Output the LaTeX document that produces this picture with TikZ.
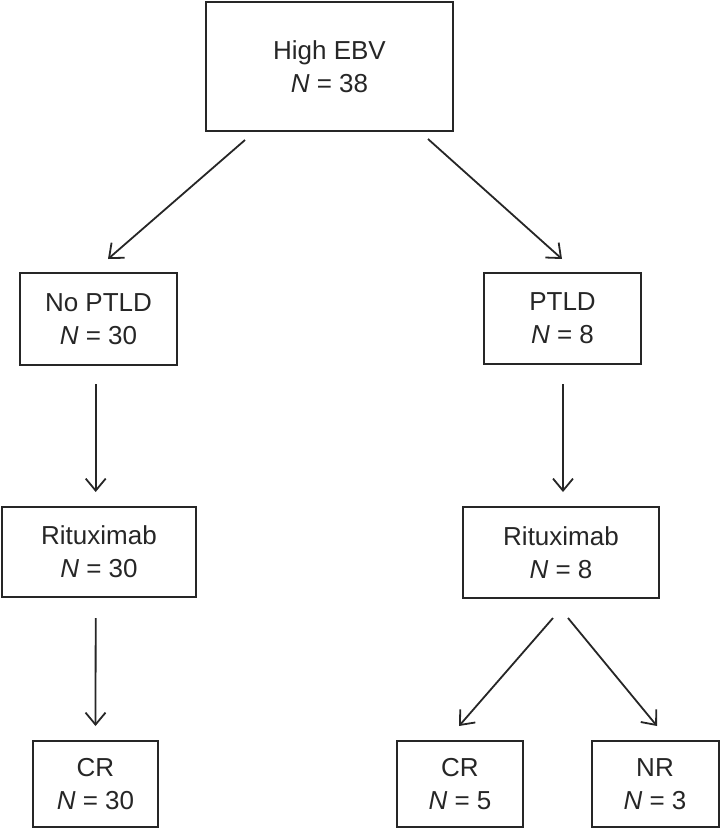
\documentclass[tikz,border=0pt]{standalone}
\usepackage{fontspec}
\setmainfont{Liberation Sans}
\usetikzlibrary{arrows.meta,calc}
\begin{document}
\begin{tikzpicture}[x=1pt,y=-1pt,
  box/.style={draw=black!85, line width=2pt, align=center, inner sep=0pt,
    font=\fontsize{26}{33}\selectfont, text=black!85},
  arr/.style={draw=black!85, line width=1.8pt,
    -{Straight Barb[length=12pt,width=20pt,line width=1.8pt]}}]
\useasboundingbox (0,0) rectangle (720,828);
\node[box, minimum width=247pt, minimum height=129pt] (top) at (329.5,66.5) {High EBV\\\textit{N} = 38};
\node[box, minimum width=157pt, minimum height=92pt] (noptld) at (98.5,319) {No PTLD\\\textit{N} = 30};
\node[box, minimum width=157pt, minimum height=91pt] (ptld) at (562.5,318.5) {PTLD\\\textit{N} = 8};
\node[box, minimum width=194pt, minimum height=90pt] (ritl) at (99,552) {Rituximab\\\textit{N} = 30};
\node[box, minimum width=196pt, minimum height=91pt] (ritr) at (561,552.5) {Rituximab\\\textit{N} = 8};
\node[box, minimum width=125pt, minimum height=86pt] (crl) at (95.5,784) {CR\\\textit{N} = 30};
\node[box, minimum width=126pt, minimum height=86pt] (crr) at (460,784) {CR\\\textit{N} = 5};
\node[box, minimum width=127pt, minimum height=86pt] (nr) at (655,784) {NR\\\textit{N} = 3};
\draw[arr] ($(top.south)+(-84.5,8)$) -- ($(noptld.north)+(9.5,-13)$);
\draw[arr] ($(top.south)+(98.5,7)$) -- ($(ptld.north)+(-0.5,-13)$);
\draw[arr] ($(noptld.south)+(-2.8,18)$) -- ($(ritl.north)+(-3.3,-14)$);
\draw[arr] ($(ptld.south)+(0.5,19)$) -- ($(ritr.north)+(2,-14)$);
\draw[arr] ($(ritl.south)+(-3.3,20)$) -- ($(crl.north)+(0,-14)$);
\draw[arr] ($(ritr.south)+(-8,19)$) -- ($(crr.north)+(-1,-14)$);
\draw[arr] ($(ritr.south)+(7,19)$) -- ($(nr.north)+(2,-14)$);
\end{tikzpicture}
\end{document}
